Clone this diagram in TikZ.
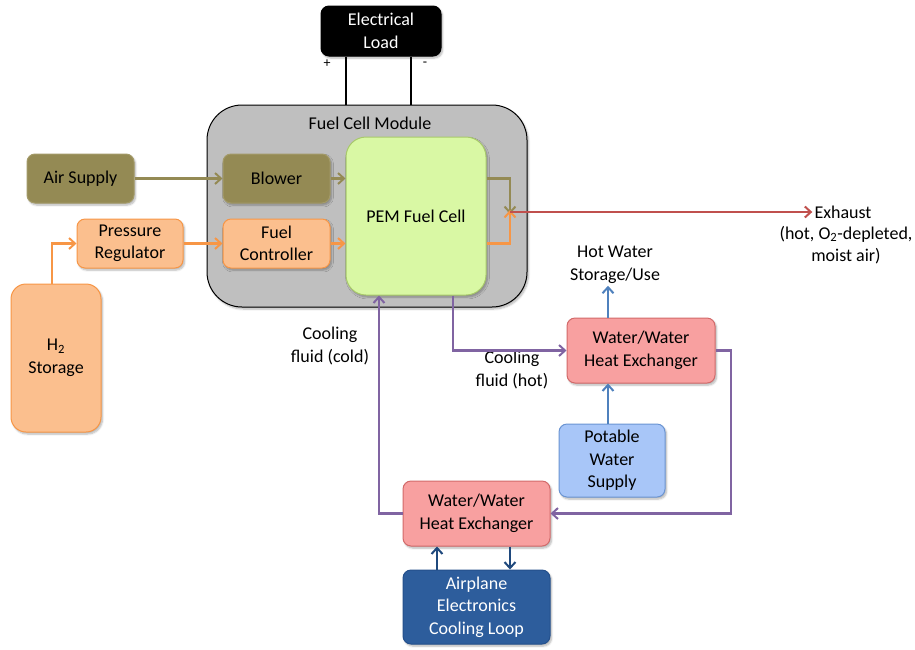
\documentclass[tikz,border=0pt]{standalone}
\usepackage{fontspec}
\setmainfont{Carlito}
\usetikzlibrary{arrows.meta,shadows.blur}

\definecolor{olive}{HTML}{948A54}
\definecolor{olivedge}{HTML}{A39A68}
\definecolor{orangefill}{HTML}{FBBF8E}
\definecolor{orangeline}{HTML}{F79646}
\definecolor{pemfill}{HTML}{D9F8A4}
\definecolor{pemline}{HTML}{A8C96A}
\definecolor{hxfill}{HTML}{F8A0A0}
\definecolor{hxline}{HTML}{D26A6A}
\definecolor{potfill}{HTML}{A8C6F8}
\definecolor{potline}{HTML}{6A94D2}
\definecolor{planefill}{HTML}{2D5D9C}
\definecolor{planeline}{HTML}{24508C}
\definecolor{modfill}{HTML}{BFBFBF}
\definecolor{exred}{HTML}{C0504D}
\definecolor{coolpurple}{HTML}{8064A2}
\definecolor{waterblue}{HTML}{4F81BD}
\definecolor{loopblue}{HTML}{1F497D}

\tikzset{
  txt/.style={font=\fontsize{18}{22.5}\selectfont, align=center, inner sep=2pt},
  box/.style={txt, draw, line width=1pt, rounded corners=8pt, inner sep=0pt,
    blur shadow={shadow xshift=1.5pt, shadow yshift=-2pt, shadow opacity=30, shadow blur steps=6}},
  flow/.style={line width=2.2pt, -{Straight Barb[length=6pt,width=11pt,line width=2pt]}},
}

\begin{document}
\begin{tikzpicture}[x=1pt,y=-1pt]
\useasboundingbox (0,0) rectangle (915,649);

% fuel cell module housing
\node[box, draw=black, fill=modfill, rounded corners=35pt, minimum width=320pt, minimum height=202pt] (module) at (367,206) {};
\node[txt] (modlabel) at (370,123) {Fuel Cell Module};

% electrical load and its leads
\node[box, draw=black, fill=black, text=white, minimum width=120pt, minimum height=50pt] (load) at (381,31) {Electrical\\Load};
\coordinate (lx) at (346,0);
\coordinate (rx) at (411,0);
\draw[line width=2.5pt] (load.south -| lx) -- (module.north -| lx);
\draw[line width=2.5pt] (load.south -| rx) -- (module.north -| rx);
\node[txt, font=\fontsize{14}{16}\selectfont] (plus) at (327,64) {+};
\node[txt, font=\fontsize{14}{16}\selectfont] (minus) at (425,64) {-};

% supply chain boxes
\node[box, draw=olivedge, fill=olive, minimum width=107pt, minimum height=49pt] (air) at (80.5,178.5) {Air Supply};
\node[box, draw=olivedge, fill=olive, minimum width=107pt, minimum height=49pt] (blower) at (276.5,178.5) {Blower};
\node[box, draw=orangeline, fill=orangefill, minimum width=106pt, minimum height=49pt] (preg) at (130,243.5) {Pressure\\Regulator};
\node[box, draw=orangeline, fill=orangefill, minimum width=107pt, minimum height=49pt] (fctrl) at (276.5,243.5) {Fuel\\Controller};
\node[box, draw=orangeline, fill=orangefill, rounded corners=15pt, minimum width=90pt, minimum height=148pt] (h2) at (56,358) {H\textsubscript{2}\\Storage};
\node[box, draw=pemline, fill=pemfill, rounded corners=20pt, minimum width=140pt, minimum height=158pt] (pem) at (416,216) {PEM Fuel Cell};

% heat exchangers and water circuits
\node[box, draw=hxline, fill=hxfill, minimum width=148pt, minimum height=65pt] (hx1) at (641,350.5) {Water/Water\\Heat Exchanger};
\node[box, draw=potline, fill=potfill, minimum width=106pt, minimum height=73pt] (pot) at (612,460.5) {Potable\\Water\\Supply};
\node[box, draw=hxline, fill=hxfill, minimum width=147pt, minimum height=65pt] (hx2) at (476.5,513.5) {Water/Water\\Heat Exchanger};
\node[box, draw=planeline, fill=planefill, text=white, minimum width=147pt, minimum height=74pt] (plane) at (476.5,607) {Airplane\\Electronics\\Cooling Loop};

% free text labels
\node[txt] (exh) at (843,212) {Exhaust};
\node[txt, anchor=north] (exhnote) at (846,224) {(hot, O\textsubscript{2}-depleted,\\moist air)};
\node[txt] (hot) at (615,265) {Hot Water\\Storage/Use};
\node[txt] (coldlbl) at (330,346) {Cooling\\fluid (cold)};
\node[txt] (hotlbl) at (512,370) {Cooling\\fluid (hot)};

% air path
\draw[flow, olive] (air) -- (blower);
\draw[flow, olive] (blower.east) -- (blower.east -| pem.west);

% hydrogen path
\draw[flow, orangeline] ([xshift=-4pt]h2.north) |- (preg.west);
\draw[flow, orangeline] (preg) -- (fctrl);
\draw[flow, orangeline] (fctrl.east) -- (fctrl.east -| pem.west);

% exhaust streams merge and leave
\coordinate (j) at (510,212);
\draw[flow, olive] (pem.east |- blower) -| ([yshift=-2pt]j);
\draw[flow, orangeline] (pem.east |- fctrl) -| ([yshift=2pt]j);
\draw[flow, exred] (j) -- (exh.west);

% cooling fluid loop
\coordinate (px) at (453,0);
\coordinate (cx) at (379,0);
\coordinate (c1) at (731,350.5);
\draw[flow, coolpurple] (pem.south -| px) |- (hx1.west);
\draw[flow, coolpurple] (hx1.east) -- (c1) |- (hx2.east);
\draw[flow, coolpurple] (hx2.west) -| (pem.south -| cx);

% potable water
\coordinate (wx) at (608,0);
\draw[flow, waterblue] (pot.north -| wx) -- (hx1.south -| wx);
\draw[flow, waterblue] (hx1.north -| wx) -- (hot.south -| wx);

% electronics cooling loop
\coordinate (ax) at (437,0);
\coordinate (bx) at (510,0);
\draw[flow, loopblue] (plane.north -| ax) -- (hx2.south -| ax);
\draw[flow, loopblue] (hx2.south -| bx) -- (plane.north -| bx);
\end{tikzpicture}
\end{document}
